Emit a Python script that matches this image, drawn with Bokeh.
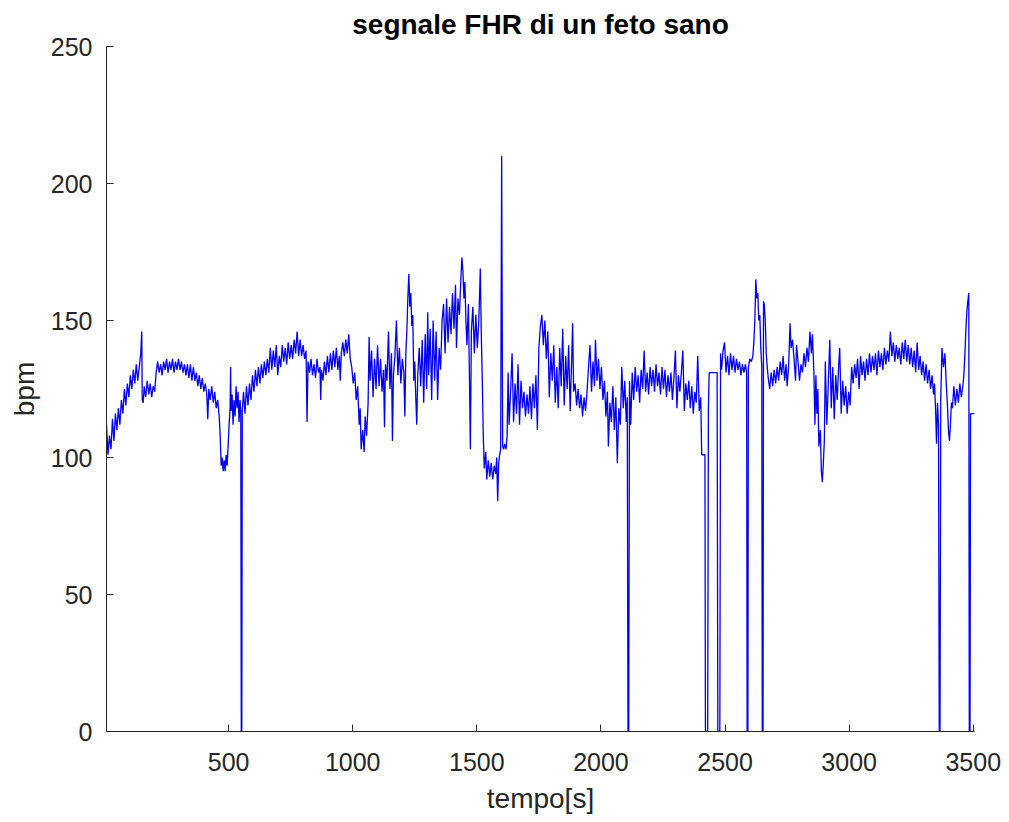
from bokeh.plotting import figure
from bokeh.models import Range1d, FixedTicker
from bokeh.embed import file_html
from bokeh.resources import INLINE

# FHR samples: (tempo [s], bpm)
seg_a = [(8,112),(14,101),(20,108),(26,103),(32,114),(38,106),(44,116),(50,110),(56,118),(62,112),
         (68,121),(74,116),(80,125),(86,119),(92,127),(98,122),(104,130),(110,125),(116,132),(122,127),
         (128,134),(134,128),(140,133),(146,138),(150,146),(152,121),(156,120),(160,126),(166,122),(172,128),
         (178,123),(184,127),(190,122),(196,126),(202,124),(208,131),(214,135),(220,131),(226,134),(232,130),
         (238,135),(244,132),(250,136),(256,131),(262,135),(268,132),(274,136),(280,131),(286,135),(292,132),
         (298,136),(304,132),(310,135),(316,131),(322,134),(328,130),(334,134),(340,129),(346,134),(352,128),
         (358,133),(364,128),(370,131),(376,126),(382,130),(388,125),(394,129),(400,124),(406,127),(412,123),
         (416,114),(420,125),(426,121),(432,126),(438,120),(444,124),(450,118),(456,121),(462,115),(466,108),
         (470,97),(474,100),(478,95),(482,99),(486,95),(490,101),(494,97),(498,104),(502,112),(506,118),
         (508,133),(510,117),(514,123),(518,112),(522,121),(526,115),(530,126),(534,118),(538,124),(542,113),
         (546,121),(549,117),(551,0),(553,0)]

seg_b = [(555,117),(560,124),(566,116),(572,126),(578,119),(584,127),(590,121),(596,130),(602,124),(608,132),
         (614,126),(620,133),(626,127),(632,134),(638,129),(644,135),(650,130),(656,136),(662,131),(668,140),
         (674,132),(680,139),(686,133),(692,141),(698,130),(704,137),(710,133),(716,141),(722,135),(728,140),
         (734,134),(740,142),(746,136),(752,141),(758,136),(764,143),(770,138),(776,146),(782,137),(788,143),
         (794,137),(800,141),(806,136),(812,139),(816,113),(820,135),(826,131),(832,136),(838,130),(844,134),
         (850,129),(856,136),(862,131),(868,133),(871,121),(874,132),(880,128),(886,135),(892,130),(898,137),
         (904,131),(910,138),(916,132),(922,139),(928,133),(934,140),(940,132),(946,137),(950,128),(954,138),
         (960,142),(966,137),(972,143),(978,138),(984,145),(990,136),(996,133),(1002,127),(1008,131),(1014,121),
         (1020,126),(1026,112),(1030,118),(1034,103),(1040,110),(1046,102),(1050,115),(1056,108),(1062,120),
         (1066,144),(1070,128),(1076,139),(1082,122),(1088,136),(1094,125)]

seg_c = [(1100,141),(1106,126),(1112,136),(1118,124),(1124,132),(1128,111),(1132,134),(1138,128),(1144,146),
         (1150,125),(1156,138),(1160,106),(1164,130),(1170,137),(1176,150),(1182,130),(1188,140),(1194,127),
         (1200,136),(1206,131),(1210,115),(1214,138),(1218,146),(1222,158),(1226,167),(1230,155),(1234,160),
         (1238,148),(1242,152),(1246,128),(1250,135),(1254,122),(1258,112),(1262,130),(1268,140),(1274,126),
         (1280,143),(1286,120),(1292,145),(1298,125),(1302,153),(1306,130),(1312,147),(1318,121),(1324,150),
         (1330,128),(1336,146),(1342,121),(1348,140),(1354,132),(1360,150),(1366,156),(1372,138),(1378,158),
         (1384,142),(1390,155),(1396,145),(1402,160),(1408,147),(1414,163),(1418,140),(1424,158),(1430,152),
         (1436,166),(1440,173),(1444,168),(1448,158),(1452,164),(1456,150),(1460,141),(1466,156),(1470,131),
         (1474,103),(1478,146),(1484,155),(1490,138),(1496,152),(1502,140),(1508,150),(1514,169),(1518,145),
         (1522,128),(1526,108),(1530,96),(1536,102),(1540,92),(1546,99),(1552,93),(1558,98),(1564,92),
         (1570,97),(1576,94),(1580,100),(1584,84),(1588,98),(1592,101),(1596,103),(1600,210),(1604,104),
         (1608,103),(1612,105),(1618,103),(1622,108)]

seg_d = [(1626,131),(1630,112),(1636,124),(1642,138),(1648,113),(1654,127),(1660,116),(1666,134),(1672,112),
         (1678,128),(1684,118),(1690,124),(1696,115),(1702,123),(1708,116),(1714,126),(1720,114),(1726,127),
         (1732,118),(1738,130),(1744,110),(1750,140),(1756,148),(1762,152),(1768,141),(1774,150),(1780,136),
         (1786,146),(1792,122),(1798,138),(1804,128),(1810,141),(1816,120),(1822,133),(1828,118),(1834,140),
         (1840,126),(1846,147),(1852,119),(1858,137),(1864,125),(1870,141),(1876,117),(1882,135),(1886,149),
         (1890,124),(1896,127),(1902,119),(1908,125),(1914,118),(1920,123),(1926,115),(1932,122),(1938,117),
         (1944,124),(1950,133),(1956,141),(1962,124),(1968,135),(1974,126),(1978,143),(1984,128),(1990,136),
         (1996,125),(2002,133),(2008,121),(2014,128),(2020,115),(2026,124),(2030,104),(2036,120),(2042,113),
         (2048,126),(2054,110),(2060,122),(2066,98),(2072,118),(2078,112),(2084,133),(2090,118),(2096,128),
         (2102,113),(2106,122),(2109,0),(2112,0),(2115,128)]

seg_e = [(2120,112),(2126,131),(2132,121),(2138,133),(2144,124),(2150,130),(2156,120),(2162,132),(2168,125),
         (2174,139),(2180,124),(2186,131),(2192,123),(2198,133),(2204,126),(2210,132),(2216,124),(2222,134),
         (2228,126),(2234,131),(2240,123),(2246,133),(2252,125),(2258,132),(2264,122),(2270,130),(2276,124),
         (2282,131),(2288,121),(2294,129),(2300,139),(2306,118),(2312,130),(2318,124),(2324,131),(2330,139),
         (2336,117),(2342,127),(2348,121),(2354,128),(2360,118),(2366,126),(2372,116),(2378,124),(2384,120),
         (2390,137),(2396,117),(2402,122),(2406,101),(2419,101),(2421,0),(2430,0),(2433,118),(2436,131),
         (2468,131),(2471,0),(2479,0),(2482,138),(2486,132),(2492,139),(2498,142),(2504,131),(2510,137),
         (2516,130),(2522,138),(2528,132),(2534,137),(2540,131),(2546,136),(2552,132),(2558,135),(2564,130),
         (2570,134),(2576,131),(2582,134),(2587,131),(2589,0),(2592,0),(2594,133),(2600,136),(2606,135),
         (2612,137),(2616,142),(2620,150),(2624,165),(2628,158),(2632,160),(2636,150),(2640,152),(2644,140),
         (2648,133),(2650,0),(2653,0),(2655,157),(2658,156),(2662,150),(2666,138),(2670,133)]

seg_f = [(2674,129),(2680,125),(2686,131),(2692,126),(2698,132),(2704,127),(2710,133),(2716,128),(2722,135),
         (2728,130),(2734,137),(2740,128),(2746,134),(2750,126),(2756,133),(2762,149),(2766,140),(2772,143),
         (2778,136),(2784,128),(2788,141),(2794,135),(2800,128),(2806,134),(2812,131),(2818,138),(2824,133),
         (2830,140),(2836,135),(2842,146),(2848,138),(2852,145),(2858,131),(2862,112),(2866,130),(2870,116),
         (2874,125),(2878,104),(2884,110),(2888,95),(2892,91),(2896,98),(2900,106),(2904,135),(2910,112),
         (2916,127),(2922,143),(2928,118),(2934,133),(2940,114),(2946,130),(2952,121),(2958,134),(2962,140),
         (2968,116),(2974,128),(2980,119),(2986,126),(2992,116),(2998,124),(3004,119),(3010,133),(3016,127),
         (3022,134),(3028,129),(3034,136),(3040,125),(3046,137),(3052,130),(3058,135),(3064,128),(3070,136),
         (3076,130),(3082,138),(3088,131),(3094,137),(3100,132),(3106,138),(3112,130),(3118,139),(3124,133),
         (3130,138),(3136,132),(3142,140),(3148,134),(3154,139),(3160,135),(3166,146),(3172,137),(3178,142),
         (3184,135),(3190,141),(3196,136),(3202,140),(3208,134),(3214,142),(3220,136),(3226,143),(3232,135),
         (3238,141),(3244,134),(3250,140),(3256,133),(3262,139),(3268,131),(3274,142),(3280,132),(3286,137),
         (3292,130),(3298,135),(3304,128),(3310,134),(3316,127),(3322,132),(3328,125),(3334,130),(3340,123),
         (3344,127),(3348,118),(3352,105),(3356,120),(3360,112),(3363,0),(3366,0),(3369,121),(3374,140),
         (3380,133),(3386,138),(3390,129),(3396,119),(3400,110),(3404,106),(3408,112),(3412,120),(3416,118),
         (3422,126),(3428,119),(3434,125),(3440,120),(3446,127),(3452,122),(3458,126),(3462,130),(3466,137),
         (3470,146),(3474,153),(3478,157),(3482,160),(3484,0),(3487,0),(3489,116),(3505,116)]

x_ticks = [500, 1000, 1500, 2000, 2500, 3000, 3500]
y_ticks = [0, 50, 100, 150, 200, 250]

title_text = "segnale FHR di un feto sano"
x_label = "tempo[s]"
y_label = "bpm"

sections = [seg_a, seg_b, seg_c, seg_d, seg_e, seg_f]
tempo = [pt[0] for s in sections for pt in s]
bpm = [pt[1] for s in sections for pt in s]

FONT = "Liberation Sans"
TXT = "#262626"

p = figure(width=1009, height=822, output_backend="svg", toolbar_location=None,
           x_range=Range1d(8, 3505), y_range=Range1d(0, 250),
           min_border_left=106, min_border_right=35, min_border_top=46, min_border_bottom=91,
           background_fill_color="white", border_fill_color="white")

p.line(tempo, bpm, line_color="#0000f0", line_width=1.3)

p.title.text = title_text
p.title.align = "center"
p.title.text_font = FONT
p.title.text_font_size = "28px"
p.title.text_font_style = "bold"
p.title.text_color = "#000000"
p.title.standoff = 13

p.xgrid.visible = False
p.ygrid.visible = False
p.outline_line_color = None

for ax in (p.xaxis[0], p.yaxis[0]):
    ax.axis_line_color = TXT
    ax.axis_line_width = 1
    ax.major_tick_line_color = TXT
    ax.major_tick_in = 7
    ax.major_tick_out = 0
    ax.minor_tick_in = 0
    ax.minor_tick_out = 0
    ax.major_label_text_font = FONT
    ax.major_label_text_font_size = "25px"
    ax.major_label_text_color = TXT
    ax.axis_label_text_font = FONT
    ax.axis_label_text_font_size = "28px"
    ax.axis_label_text_font_style = "normal"
    ax.axis_label_text_color = TXT

p.xaxis[0].ticker = FixedTicker(ticks=x_ticks)
p.yaxis[0].ticker = FixedTicker(ticks=y_ticks)
p.xaxis[0].axis_label = x_label
p.yaxis[0].axis_label = y_label
p.xaxis[0].major_label_standoff = 21
p.yaxis[0].major_label_standoff = 14
p.xaxis[0].axis_label_standoff = 9
p.yaxis[0].axis_label_standoff = 8

open("out.html", "w").write(file_html(p, INLINE))
